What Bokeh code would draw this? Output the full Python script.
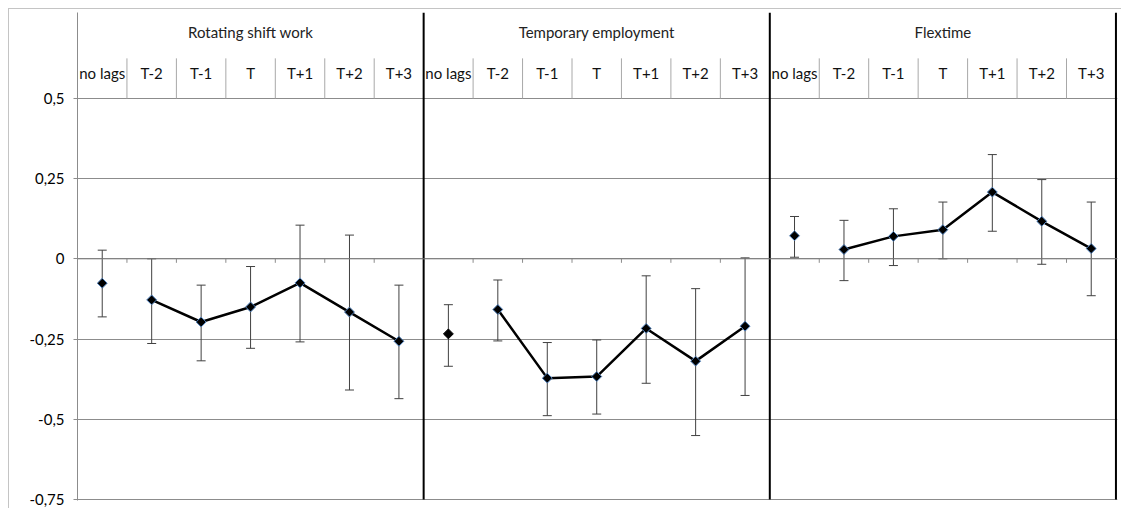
from bokeh.plotting import figure
from bokeh.models import (Range1d, FixedTicker, CustomJSTickFormatter, Whisker,
                          TeeHead, ColumnDataSource, Span)
from bokeh.core.properties import value
from bokeh.embed import file_html
from bokeh.resources import INLINE

# ---------------- data ----------------
groups = ["Rotating shift work", "Temporary employment", "Flextime"]
lags = ["no lags", "T-2", "T-1", "T", "T+1", "T+2", "T+3"]

rot_est = [-0.076, -0.128, -0.197, -0.150, -0.075, -0.166, -0.257]
rot_lo = [-0.181, -0.264, -0.318, -0.279, -0.259, -0.409, -0.436]
rot_hi = [0.027, 0.000, -0.082, -0.024, 0.105, 0.074, -0.082]

tmp_est = [-0.234, -0.158, -0.372, -0.367, -0.217, -0.319, -0.210]
tmp_lo = [-0.335, -0.256, -0.489, -0.484, -0.388, -0.551, -0.426]
tmp_hi = [-0.143, -0.066, -0.261, -0.253, -0.053, -0.093, 0.003]

flex_est = [0.072, 0.029, 0.070, 0.091, 0.208, 0.117, 0.032]
flex_lo = [0.005, -0.068, -0.021, 0.000, 0.086, -0.017, -0.115]
flex_hi = [0.132, 0.120, 0.156, 0.177, 0.325, 0.247, 0.177]

y_ticks = [-0.75, -0.5, -0.25, 0, 0.25, 0.5]

series = [(rot_est, rot_lo, rot_hi), (tmp_est, tmp_lo, tmp_hi), (flex_est, flex_lo, flex_hi)]

# ---------------- layout constants ----------------
n = len(lags)
total = n * len(groups)
cat_px = 49.45
frame_w = 1040
px_per_unit = 320.8
y_start, y_end = -0.7535, 0.768
frame_h = round((y_end - y_start) * px_per_unit)
hdr_sep = 0.625
lag_label_y = 0.578
grp_label_y = 0.706

GRID = "#8c8c8c"
FONT = value("Lato")
FS = "15px"

p = figure(frame_width=frame_w, frame_height=frame_h,
           min_border_left=68, min_border_right=4, min_border_top=3, min_border_bottom=8,
           x_range=Range1d(0, frame_w / cat_px), y_range=Range1d(y_start, y_end),
           x_axis_location=None, toolbar_location=None, output_backend="svg",
           styles={"border-left": "1px solid #c4c4c4", "border-top": "1px solid #c4c4c4",
                   "margin-left": "8px", "margin-top": "8px"})
p.outline_line_color = None
p.background_fill_color = "white"
p.border_fill_color = "white"

# y axis
ax = p.yaxis[0]
ax.ticker = FixedTicker(ticks=y_ticks)
ax.formatter = CustomJSTickFormatter(code="return tick.toString().replace('.', ',');")
ax.axis_line_color = GRID
ax.major_tick_line_color = GRID
ax.major_tick_out = 4
ax.major_tick_in = 0
ax.minor_tick_line_color = None
ax.major_label_standoff = 9
ax.major_label_text_font = "Lato"
ax.major_label_text_font_size = FS
ax.major_label_text_color = "#000000"

p.xgrid.visible = False
p.ygrid.ticker = FixedTicker(ticks=y_ticks)
p.ygrid.grid_line_color = GRID
p.ygrid.grid_line_width = 1

# zero axis line with ticks at category boundaries
p.add_layout(Span(location=0, dimension="width", line_color="#7f7f7f", line_width=1))
bx = list(range(1, total))
p.segment(x0=bx, y0=[0] * len(bx), x1=bx, y1=[-4 / px_per_unit] * len(bx),
          line_color=GRID, line_width=1)

# header: separators in lag row
sx = [g * n + k for g in range(len(groups)) for k in range(1, n)]
p.segment(x0=sx, y0=[0.5] * len(sx), x1=sx, y1=[hdr_sep] * len(sx),
          line_color="#a8a8a8", line_width=1)

# header labels
lx = [g * n + i + 0.5 for g in range(len(groups)) for i in range(n)]
p.text(x=lx, y=[lag_label_y] * len(lx), text=lags * len(groups),
       text_align="center", text_baseline="middle", text_font=FONT,
       text_font_size=FS, text_color="#111111")
gx = [g * n + n / 2 for g in range(len(groups))]
p.text(x=gx, y=[grp_label_y] * len(gx), text=groups,
       text_align="center", text_baseline="middle", text_font=FONT,
       text_font_size=FS, text_color="#222222")

# group dividers
dx = [(g + 1) * n for g in range(len(groups))]
p.segment(x0=dx, y0=[-0.75] * len(dx), x1=dx, y1=[y_end] * len(dx),
          line_color="black", line_width=2)

# error bars, lines, markers
for g, (est, lo, hi) in enumerate(series):
    xs = [g * n + i + 0.5 for i in range(n)]
    src = ColumnDataSource(dict(x=xs, est=est, lo=lo, hi=hi))
    w = Whisker(source=src, base="x", upper="hi", lower="lo", dimension="height",
                line_color="#404040", line_width=1, level="underlay",
                upper_head=TeeHead(size=9, line_color="#404040", line_width=1),
                lower_head=TeeHead(size=9, line_color="#404040", line_width=1))
    p.add_layout(w)
    p.line(x=xs[1:], y=est[1:], line_color="black", line_width=2.5)
    edge = ["#4f81bd"] * n
    if g == 1:
        edge[0] = "black"
    msrc = ColumnDataSource(dict(x=xs, est=est, edge=edge))
    p.scatter(x="x", y="est", source=msrc, marker="square", angle=0.785398,
              size=7, fill_color="black", line_color="edge", line_width=1)

open("out.html", "w").write(file_html(p, INLINE))
